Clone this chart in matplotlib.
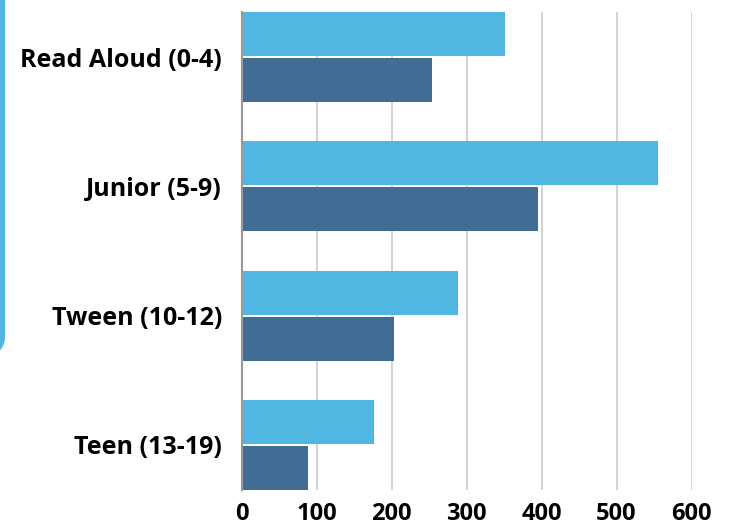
import matplotlib
matplotlib.use("Agg")
import matplotlib.pyplot as plt
import numpy as np
from matplotlib.patches import FancyBboxPatch

categories = ["Read Aloud (0-4)", "Junior (5-9)", "Tween (10-12)", "Teen (13-19)"]
series_a = [351, 555, 288, 177]
series_b = [254, 395, 203, 89]
xticks = [0, 100, 200, 300, 400, 500, 600]

light = "#4FB7E2"
dark = "#416D95"

plt.rcParams['font.family'] = ['Open Sans', 'DejaVu Sans']

fig = plt.figure(figsize=(7.31, 5.27), dpi=100)
W, H = 731, 527
ax = fig.add_axes([241.5 / W, 1 - 490 / H, (691.5 - 241.5) / W, (490 - 12) / H])

y = np.arange(len(categories))
h = 0.34
off = 0.178
ax.barh(y - off, series_a, height=h, color=light, zorder=3)
ax.barh(y + off, series_b, height=h, color=dark, zorder=3)

ax.set_ylim(3.35, -0.35)
ax.set_xlim(0, 600)
ax.set_yticks(y)
ax.set_yticklabels(categories, fontsize=18, fontweight='bold')
ax.set_xticks(xticks)
ax.set_xticklabels([str(t) for t in xticks], fontsize=17, fontweight='bold')
ax.tick_params(axis='y', length=0, pad=14)
ax.tick_params(axis='x', length=0, pad=9)
ax.xaxis.grid(True, color='#CCCCCC', linewidth=1.2, zorder=0)
ax.set_axisbelow(True)
for s in ['top', 'right', 'bottom']:
    ax.spines[s].set_visible(False)
ax.spines['left'].set_color('#999999')
ax.spines['left'].set_linewidth(1.5)
ax.spines['left'].set_zorder(4)

# decorative rounded frame at left edge
box = FancyBboxPatch((-200 / W, 1 - 355 / H), 202.5 / W, 600 / H,
                     boxstyle="round,pad=0,rounding_size=0.035",
                     transform=fig.transFigure, facecolor='none',
                     edgecolor=light, linewidth=3.6, clip_on=False)
fig.patches.append(box)

fig.savefig("out.png", dpi=100)
